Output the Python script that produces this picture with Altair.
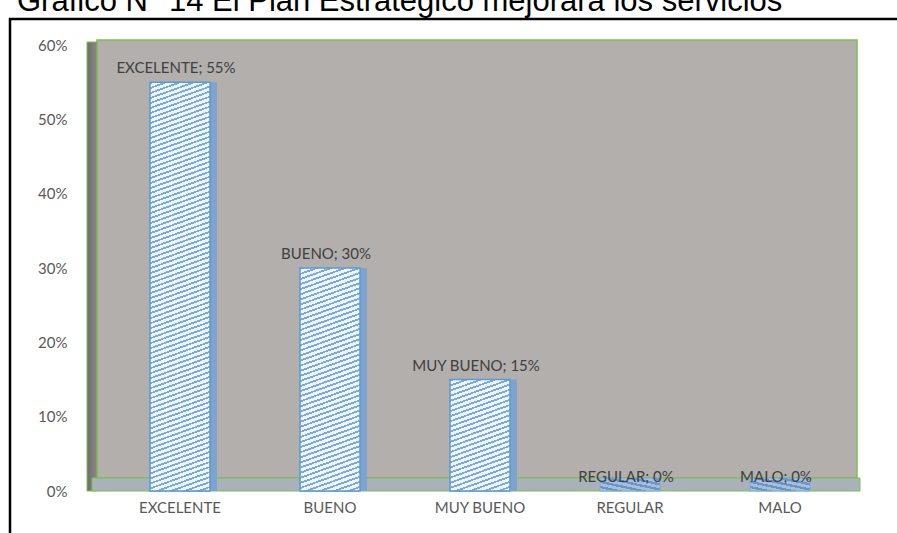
import altair as alt
import pandas as pd

# ---- data ----
categories = ["EXCELENTE", "BUENO", "MUY BUENO", "REGULAR", "MALO"]
values = [0.55, 0.30, 0.15, 0.0, 0.0]
y_ticks = [0, 0.1, 0.2, 0.3, 0.4, 0.5, 0.6]
title_text = "Gráfico N° 14 El Plan Estratégico mejorará los servicios"

df = pd.DataFrame({"cat": categories, "value": values})
one = pd.DataFrame({"d": [0]})

W, H = 750, 446
YMAX = 0.6
GREEN = "#7cbf4c"
FONT = "Lato"
FS = 15


def stripes(c1, c2, n, frac, x1, y1, x2, y2):
    stops = []
    for i in range(n):
        a = i / n
        b = (i + frac) / n
        c = (i + 1) / n
        stops += [
            alt.GradientStop(color=c1, offset=a),
            alt.GradientStop(color=c1, offset=b),
            alt.GradientStop(color=c2, offset=b),
            alt.GradientStop(color=c2, offset=c),
        ]
    return alt.LinearGradient(gradient="linear", stops=stops, x1=x1, y1=y1, x2=x2, y2=y2)


x_enc = alt.X(
    "cat:N", sort=categories,
    scale=alt.Scale(paddingInner=0.6, paddingOuter=0.3),
    axis=alt.Axis(title=None, labelAngle=0, ticks=False, domain=False, labelPadding=9,
                  labelFont=FONT, labelFontSize=FS, labelColor="#595959"),
)
y_enc = alt.Y(
    "value:Q",
    scale=alt.Scale(domain=[0, YMAX], nice=False),
    axis=alt.Axis(title=None, values=y_ticks, format=".0%", ticks=False, domain=False,
                  grid=False, labelPadding=38, labelFont=FONT, labelFontSize=FS,
                  labelColor="#595959"),
)

layers = []

# frame
layers.append(alt.Chart(one).mark_rect(fillOpacity=0, stroke="black", strokeWidth=2.5).encode(
    x=alt.value(-95), x2=alt.value(900), y=alt.value(-26), y2=alt.value(600)))

# title (clipped at the top edge, as in the reference)
layers.append(alt.Chart(pd.DataFrame({"t": [title_text]})).mark_text(
    font="Liberation Sans", fontSize=31, align="left", baseline="alphabetic", color="black"
).encode(x=alt.value(-88), y=alt.value(-34), text="t:N"))

# back wall
layers.append(alt.Chart(one).mark_rect(fill="#b3afad", stroke=GREEN, strokeWidth=1.5).encode(
    x=alt.value(-8), x2=alt.value(752), y=alt.value(-5), y2=alt.value(433)))
# left wall
layers.append(alt.Chart(one).mark_rect(
    color=alt.LinearGradient(gradient="linear", x1=0, y1=0, x2=1, y2=0,
                             stops=[alt.GradientStop(color="#6f6d6c", offset=0),
                                    alt.GradientStop(color="#8c8a89", offset=1)]),
    stroke=GREEN, strokeWidth=1).encode(
    x=alt.value(-18), x2=alt.value(-8), y=alt.value(-3), y2=alt.value(446)))
# floor
layers.append(alt.Chart(one).mark_rect(fill="#a9b1ba", stroke=GREEN, strokeWidth=1).encode(
    x=alt.value(-13), x2=alt.value(755), y=alt.value(433), y2=alt.value(446)))

# bar footprints on the floor
layers.append(alt.Chart(df).mark_bar(
    color=stripes("#6596d2", "#a9bdd4", 5, 0.45, 1, 0, 0, 1), stroke="#7aa6d8", strokeWidth=0.8
).encode(x=x_enc, y=alt.value(433), y2=alt.value(446)))

# side faces
layers.append(alt.Chart(df).mark_bar(width=7, xOffset=33.5, color="#7ea3cf").encode(
    x=x_enc, y=y_enc))

# front faces (hatched)
for cat, v in zip(categories, values):
    if v <= 0:
        continue
    h = v / YMAX * H
    a = 0.36 * 60 / h
    s = (1 + a) / (1 + a * a)
    n = max(1, round(h * s / 5))
    grad = stripes("#79aadf", "#eef5fc", n, 0.38, 0, 0, a * s, s)
    layers.append(alt.Chart(df).transform_filter(alt.datum.cat == cat).mark_bar(
        color=grad, stroke="#5b9bd5", strokeWidth=1.5).encode(x=x_enc, y=y_enc))

# data labels
layers.append(alt.Chart(df).transform_calculate(
    label="datum.cat + '; ' + format(datum.value, '.0%')"
).mark_text(font=FONT, fontSize=FS, color="#404040", dy=-9, dx=-4, baseline="alphabetic").encode(
    x=x_enc, y=y_enc, text="label:N"))

chart = alt.layer(*layers).properties(
    width=W, height=H,
    autosize=alt.AutoSizeParams(type="none"),
    padding={"left": 105, "top": 45, "right": 42, "bottom": 42},
    background="white",
).configure_view(stroke=None)

chart.save("out.html", embed_options={"renderer": "svg", "actions": False})
